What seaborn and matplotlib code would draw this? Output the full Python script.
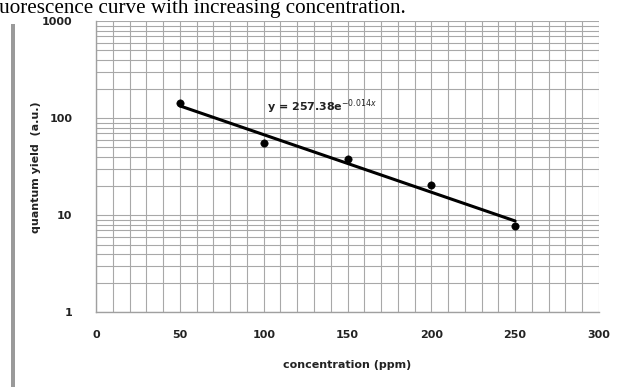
import numpy as np
import pandas as pd
import matplotlib
matplotlib.use("Agg")
import matplotlib.pyplot as plt
import seaborn as sns
from matplotlib.patches import Rectangle
from matplotlib.ticker import FixedLocator, LogLocator, NullFormatter

concentration = [50, 100, 150, 200, 250]
quantum_yield = [143, 55, 38, 20.5, 7.7]
x_ticks = [0, 50, 100, 150, 200, 250, 300]
y_ticks = [1, 10, 100, 1000]
y_tick_labels = ["1", "10", "100", "1000"]
equation_text = r"y = 257.38e$^{-0.014x}$"
caption = "fluorescence curve with increasing concentration."

sns.set_style("white")
plt.rcParams["font.family"] = ["DejaVu Sans"]

df = pd.DataFrame({"conc": concentration, "qy": quantum_yield})
b, ln_a = np.polyfit(df["conc"], np.log(df["qy"]), 1)
fit = pd.DataFrame({"conc": np.linspace(min(concentration), max(concentration), 50)})
fit["qy"] = np.exp(ln_a) * np.exp(b * fit["conc"])

fig = plt.figure(figsize=(6.2, 3.87), dpi=100)
ax = fig.add_axes([0.155, 0.193, 0.811, 0.752])

sns.lineplot(data=fit, x="conc", y="qy", ax=ax, color="black", linewidth=2.2, zorder=3)
sns.scatterplot(data=df, x="conc", y="qy", ax=ax, color="black", s=28, marker="o",
                edgecolor="black", zorder=4)

ax.set_yscale("log")
ax.set_xlim(0, 300)
ax.set_ylim(1, 1000)
ax.xaxis.set_major_locator(FixedLocator(x_ticks))
ax.xaxis.set_minor_locator(FixedLocator(list(range(0, 301, 10))))
ax.yaxis.set_major_locator(FixedLocator(y_ticks))
ax.yaxis.set_minor_locator(LogLocator(base=10, subs=np.arange(2, 10)))
ax.yaxis.set_minor_formatter(NullFormatter())
ax.set_yticklabels(y_tick_labels)

ax.grid(which="both", axis="both", color="#a8a8a8", linewidth=0.8)
ax.set_axisbelow(True)
for s in ["top", "right"]:
    ax.spines[s].set_visible(False)
for s in ["left", "bottom"]:
    ax.spines[s].set_color("#a0a0a0")
    ax.spines[s].set_linewidth(1.0)

ax.tick_params(axis="both", which="major", labelsize=8, length=3, color="#a0a0a0")
ax.tick_params(axis="x", which="major", pad=10)
ax.tick_params(axis="y", which="major", pad=14)
ax.tick_params(axis="both", which="minor", length=0)
for lab in ax.get_xticklabels() + ax.get_yticklabels():
    lab.set_fontweight("bold")
    lab.set_color("#222222")

ax.set_xlabel("concentration (ppm)", fontsize=8, fontweight="bold", color="#222222", labelpad=14)
ax.set_ylabel("quantum yield  (a.u.)", fontsize=8, fontweight="bold", color="#222222")
ax.yaxis.set_label_coords((41 - 96) / 503, 0.5)

ax.text(102, 132, equation_text, fontsize=8, fontweight="bold", color="#222222",
        ha="left", va="center")

fig.text(406 / 620, 1 - 13 / 387, caption, fontsize=15.2, family="Liberation Serif",
         ha="right", va="baseline", color="black")

fig.add_artist(Rectangle((11 / 620, 0), 4 / 620, 1 - 24 / 387, transform=fig.transFigure,
                         facecolor="#9a9a9a", edgecolor="none"))

fig.savefig("out.png", dpi=100)
